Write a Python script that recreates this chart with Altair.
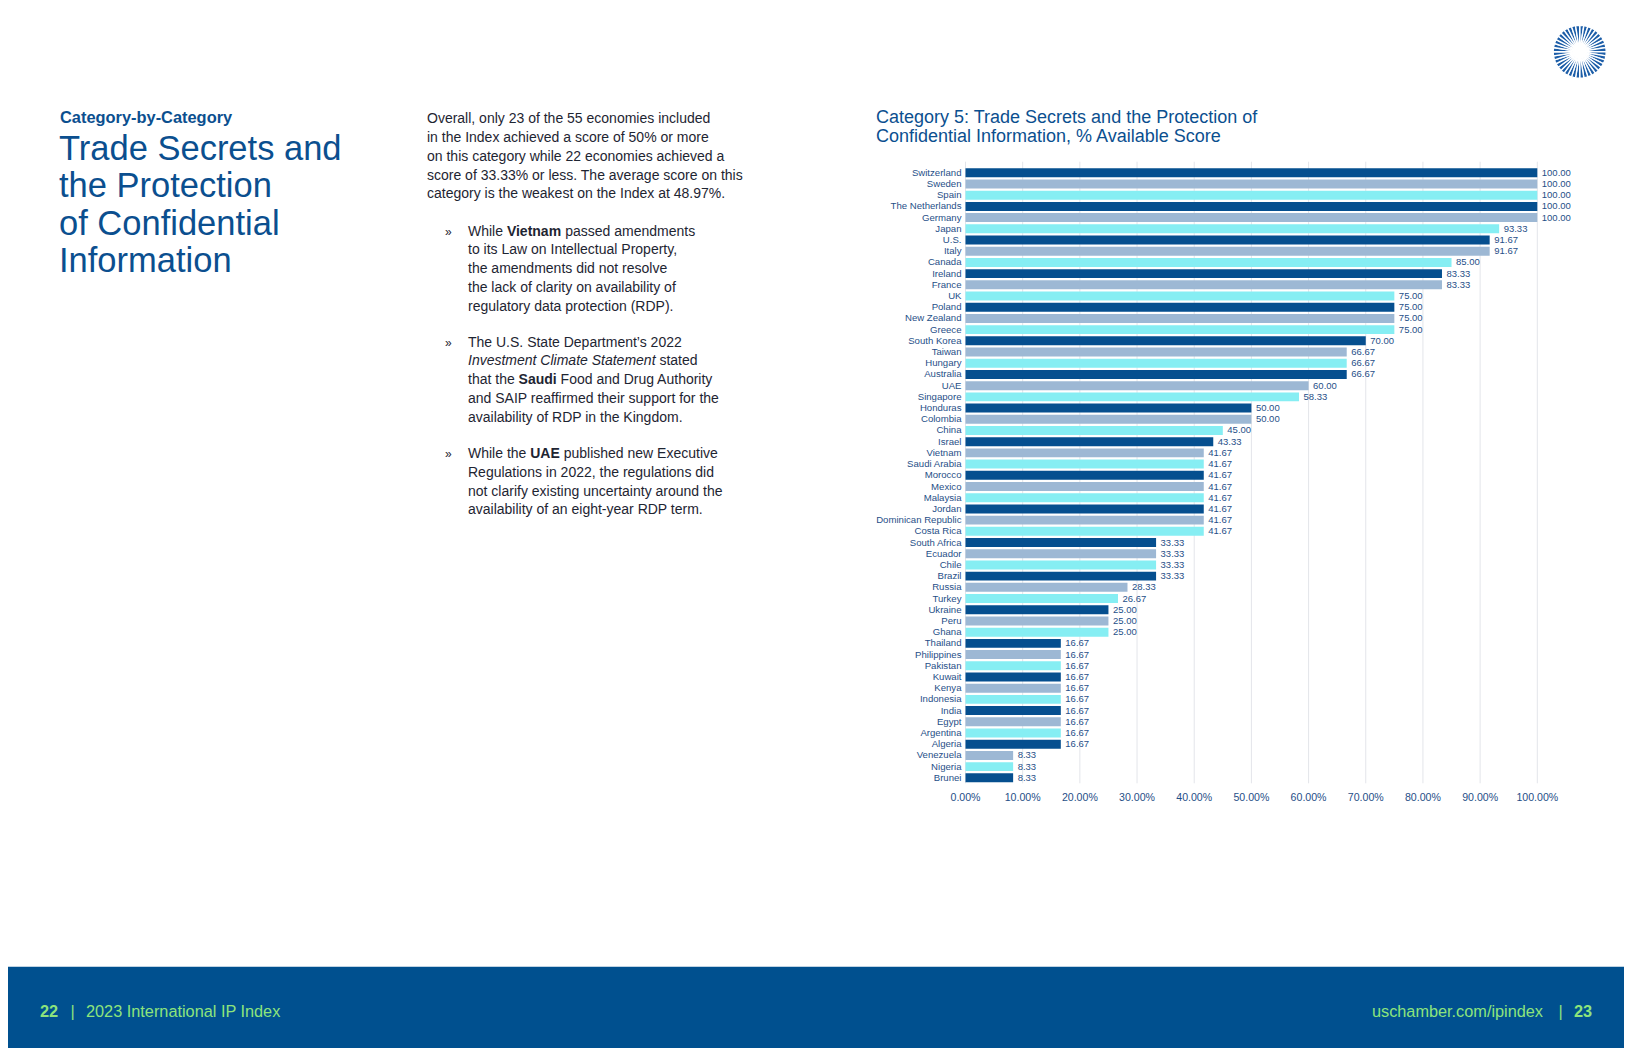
import altair as alt
import pandas as pd

# ---------------- data ----------------
countries = ["Switzerland", "Sweden", "Spain", "The Netherlands", "Germany", "Japan", "U.S.", "Italy",
             "Canada", "Ireland", "France", "UK", "Poland", "New Zealand", "Greece", "South Korea",
             "Taiwan", "Hungary", "Australia", "UAE", "Singapore", "Honduras", "Colombia", "China",
             "Israel", "Vietnam", "Saudi Arabia", "Morocco", "Mexico", "Malaysia", "Jordan",
             "Dominican Republic", "Costa Rica", "South Africa", "Ecuador", "Chile", "Brazil", "Russia",
             "Turkey", "Ukraine", "Peru", "Ghana", "Thailand", "Philippines", "Pakistan", "Kuwait",
             "Kenya", "Indonesia", "India", "Egypt", "Argentina", "Algeria", "Venezuela", "Nigeria", "Brunei"]
scores = [100, 100, 100, 100, 100, 93.33, 91.67, 91.67,
          85.00, 83.33, 83.33, 75, 75, 75, 75, 70,
          66.67, 66.67, 66.67, 60, 58.33, 50, 50, 45,
          43.33, 41.67, 41.67, 41.67, 41.67, 41.67, 41.67,
          41.67, 41.67, 33.33, 33.33, 33.33, 33.33, 28.33,
          26.67, 25, 25, 25, 16.67, 16.67, 16.67, 16.67,
          16.67, 16.67, 16.67, 16.67, 16.67, 16.67, 8.33, 8.33, 8.33]
tick_values = [0, 10, 20, 30, 40, 50, 60, 70, 80, 90, 100]
tick_labels = ["0.00%", "10.00%", "20.00%", "30.00%", "40.00%", "50.00%",
               "60.00%", "70.00%", "80.00%", "90.00%", "100.00%"]

chart_title = ["Category 5: Trade Secrets and the Protection of",
               "Confidential Information, % Available Score"]
kicker = "Category-by-Category"
heading = ["Trade Secrets and", "the Protection", "of Confidential", "Information"]
intro = ["Overall, only 23 of the 55 economies included",
         "in the Index achieved a score of 50% or more",
         "on this category while 22 economies achieved a",
         "score of 33.33% or less. The average score on this",
         "category is the weakest on the Index at 48.97%."]
bullets = [
    [[("While ", "n"), ("Vietnam", "b"), (" passed amendments", "n")],
     [("to its Law on Intellectual Property,", "n")],
     [("the amendments did not resolve", "n")],
     [("the lack of clarity on availability of", "n")],
     [("regulatory data protection (RDP).", "n")]],
    [[("The U.S. State Department\u2019s 2022", "n")],
     [("Investment Climate Statement", "i"), (" stated", "n")],
     [("that the ", "n"), ("Saudi", "b"), (" Food and Drug Authority", "n")],
     [("and SAIP reaffirmed their support for the", "n")],
     [("availability of RDP in the Kingdom.", "n")]],
    [[("While the ", "n"), ("UAE", "b"), (" published new Executive", "n")],
     [("Regulations in 2022, the regulations did", "n")],
     [("not clarify existing uncertainty around the", "n")],
     [("availability of an eight-year RDP term.", "n")]],
]
footer_left = ["22", "|", "2023 International IP Index"]
footer_right = ["uschamber.com/ipindex", "|", "23"]

# ---------------- styles ----------------
FONT = "Liberation Sans"
BLUE = "#0b4f8f"
LABEL = "#1f4f88"
BODY = "#1e2532"
GREEN = "#8de47c"
FOOT = "#00508f"
BAR_COLORS = ["#054f8f", "#9db8d4", "#86eef3"]

# Arial / Liberation Sans advance widths (per 1000 em) for inline layout of mixed styles
_lc = "abcdefghijklmnopqrstuvwxyz"
_uc = "ABCDEFGHIJKLMNOPQRSTUVWXYZ"
REG = dict(zip(_lc, [556, 556, 500, 556, 556, 278, 556, 556, 222, 222, 500, 222, 833, 556, 556, 556, 556,
                     333, 500, 278, 556, 500, 722, 500, 500, 500]))
REG.update(zip(_uc, [667, 667, 722, 722, 667, 611, 778, 722, 278, 500, 667, 556, 833, 722, 778, 667, 778,
                     722, 667, 611, 722, 667, 944, 667, 667, 611]))
REG.update({" ": 278, ".": 278, ",": 278, "-": 333, "(": 333, ")": 333, "\u2019": 222})
BOLD = dict(zip(_lc, [556, 611, 556, 611, 556, 333, 611, 611, 278, 278, 556, 278, 889, 611, 611, 611, 611,
                      389, 556, 333, 611, 556, 778, 556, 556, 500]))
BOLD.update(zip(_uc, [722, 722, 722, 722, 667, 611, 778, 722, 278, 556, 722, 611, 833, 722, 778, 667, 778,
                      722, 667, 611, 722, 667, 944, 667, 667, 611]))
BOLD.update({" ": 278})


def tw(s, style, size):
    table = BOLD if style == "b" else REG
    return sum(table.get(c, 556) for c in s) / 1000.0 * size


BODY_SIZE = 14
rows = {"n": [], "b": [], "i": []}
for k, line in enumerate(intro):
    rows["n"].append({"x": 419, "y": 115.3 + k * 18.75, "t": line})
bullet_starts = [227.7, 338.7, 450.3]
marks = []
for b, lines in enumerate(bullets):
    marks.append({"x": 437, "y": bullet_starts[b], "t": "\u00bb"})
    for k, segs in enumerate(lines):
        x = 460.0
        y = bullet_starts[b] + k * 18.7
        for txt, st in segs:
            lead = len(txt) - len(txt.lstrip(" "))
            body = txt.strip(" ")
            rows[st].append({"x": x + tw(" " * lead, st, BODY_SIZE), "y": y, "t": body})
            x += tw(txt, st, BODY_SIZE)


def px_text(df, **kw):
    return alt.Chart(pd.DataFrame(df)).mark_text(font=FONT, baseline="alphabetic", **kw).encode(
        x=alt.X("x:Q", scale=None, axis=None),
        y=alt.Y("y:Q", scale=None, axis=None),
        text="t:N",
    )


body_n = px_text(rows["n"], align="left", fontSize=BODY_SIZE, color=BODY)
body_b = px_text(rows["b"], align="left", fontSize=BODY_SIZE, color=BODY, fontWeight="bold")
body_i = px_text(rows["i"], align="left", fontSize=BODY_SIZE, color=BODY, fontStyle="italic")
bullet_marks = px_text(marks, align="left", fontSize=12, color=BODY)

kicker_t = px_text([{"x": 52, "y": 115.3, "t": kicker}], align="left", fontSize=16.4,
                   fontWeight="bold", color=BLUE)
heading_t = px_text([{"x": 51, "y": 152 + k * 37.3, "t": h} for k, h in enumerate(heading)],
                    align="left", fontSize=34.5, color=BLUE)
title_t = px_text([{"x": 868, "y": 115.3 + k * 18.4, "t": h} for k, h in enumerate(chart_title)],
                  align="left", fontSize=18, color=BLUE)

# ---------------- bar chart ----------------
df = pd.DataFrame({"country": countries, "score": scores,
                   "grp": [str(i % 3) for i in range(len(countries))]})
XS = alt.Scale(domain=[0, 100], range=[957.5, 1529.3])
YS = alt.Scale(domain=countries, range=[160.3, 774.3], paddingInner=0.2, paddingOuter=0)

ticks_df = pd.DataFrame({"tick": tick_values, "lab": tick_labels})
grid = alt.Chart(ticks_df).mark_rule(color="#e3e5ea", strokeWidth=1).encode(
    x=alt.X("tick:Q", scale=XS, axis=None),
    y=alt.value(153.7), y2=alt.value(775.3))
tick_text = alt.Chart(ticks_df).mark_text(font=FONT, fontSize=10.6, color=LABEL, baseline="middle",
                                          align="center").encode(
    x=alt.X("tick:Q", scale=XS, axis=None), y=alt.value(790.3), text="lab:N")

bars = alt.Chart(df).mark_bar().encode(
    x=alt.X("score:Q", scale=XS, axis=None),
    y=alt.Y("country:N", scale=YS, axis=None, sort=countries),
    color=alt.Color("grp:N", scale=alt.Scale(domain=["0", "1", "2"], range=BAR_COLORS), legend=None),
)
values = alt.Chart(df).mark_text(font=FONT, fontSize=9.5, color=LABEL, align="left", baseline="middle",
                                 dx=4.5).encode(
    x=alt.X("score:Q", scale=XS, axis=None),
    y=alt.Y("country:N", scale=YS, axis=None, sort=countries),
    text=alt.Text("score:Q", format=".2f"))
names = alt.Chart(df).transform_calculate(base="0").mark_text(
    font=FONT, fontSize=9.6, color=LABEL, align="right", baseline="middle", dx=-4).encode(
    x=alt.X("base:Q", scale=XS, axis=None),
    y=alt.Y("country:N", scale=YS, axis=None, sort=countries),
    text="country:N")

bar_group = alt.layer(grid, bars, values, names, tick_text)

# ---------------- footer & logo ----------------
one = pd.DataFrame({"a": [0]})
footer = alt.Chart(one).mark_rect(color=FOOT).encode(
    x=alt.value(0), x2=alt.value(1616), y=alt.value(958.7), y2=alt.value(1040))
FY = 1008.7
foot_b_l = px_text([{"x": 32, "y": FY, "t": footer_left[0]}], align="left", fontSize=16.3,
                   fontWeight="bold", color=GREEN)
foot_bar = px_text([{"x": 64.5, "y": FY, "t": footer_left[1]}, {"x": 1552.7, "y": FY, "t": footer_right[1]}],
                   align="center", fontSize=16.3, color=GREEN)
foot_l = px_text([{"x": 78, "y": FY, "t": footer_left[2]}], align="left", fontSize=16.3, color=GREEN)
foot_r = px_text([{"x": 1535, "y": FY, "t": footer_right[0]}], align="right", fontSize=16.3, color=GREEN)
foot_b_r = px_text([{"x": 1584, "y": FY, "t": footer_right[2]}], align="right", fontSize=16.3,
                   fontWeight="bold", color=GREEN)

logo = alt.Chart(pd.DataFrame({"v": [1] * 40})).mark_arc(
    radius=26.5, radius2=7.5, color="#1d5ea8", stroke="white", strokeWidth=1.4).encode(
    theta=alt.Theta("v:Q"), x=alt.value(1571.7), y=alt.value(43.7))

chart = alt.layer(
    bar_group, title_t, kicker_t, heading_t, body_n, body_b, body_i, bullet_marks,
    footer, foot_b_l, foot_bar, foot_l, foot_r, foot_b_r, logo
).resolve_scale(x="independent", y="independent").properties(
    width=1616, height=1040, padding=0, autosize=alt.AutoSizeParams(type="none"),
    background="white"
).configure_view(stroke=None)

chart.save("out.html", embed_options={"renderer": "svg", "actions": False})
